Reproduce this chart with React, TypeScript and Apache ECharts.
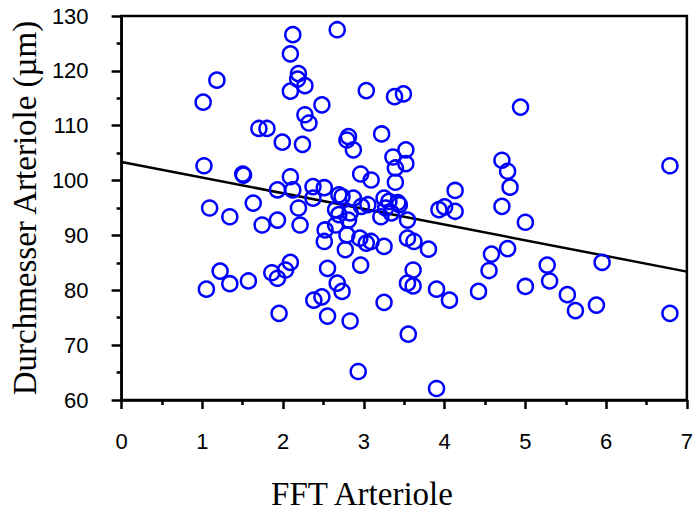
import React, { useEffect, useRef } from "react";
import * as echarts from "echarts";

const xValues = [
  2.12, 2.09, 2.19, 2.18, 2.27, 2.09, 1.18, 1.01, 2.27, 2.32, 1.7, 1.8, 1.99, 2.24, 1.02, 1.5, 1.51, 2.09, 1.93, 2.12,
  2.37, 2.37, 1.63, 1.09, 1.34, 2.19, 1.74, 1.93, 2.21, 1.22, 1.05, 1.34, 1.57, 1.86, 1.93, 2.03, 2.09, 1.95, 2.38,
  2.67, 3.03, 3.38, 3.49, 2.48, 2.81, 2.79, 2.87, 3.22, 3.52, 3.36, 3.52, 3.39, 3.39, 2.96, 3.09, 4.13, 2.51, 2.69,
  2.73, 2.87, 3.25, 3.31, 3.42, 3.93, 4.0, 4.13, 2.65, 2.69, 2.83, 2.81, 2.97, 3.05, 3.21, 3.27, 3.34, 3.44, 3.54,
  2.52, 2.51, 2.65, 2.77, 2.79, 2.95, 3.03, 3.09, 3.25, 3.54, 3.62, 3.8, 2.55, 2.96, 3.61, 3.54, 3.61, 3.9, 4.06,
  4.42, 2.67, 2.73, 2.48, 2.55, 2.83, 3.25, 3.55, 2.93, 3.9, 4.71, 5.0, 4.78, 4.58, 4.55, 5.27, 5.3, 5.0, 5.95, 5.52,
  5.62, 5.88, 6.79, 4.94, 4.71, 4.78, 4.81, 6.79,
];
const yValues = [
  126.6, 123.1, 119.5, 118.5, 117.3, 116.3, 118.3, 114.3, 112.0, 110.5, 109.5, 109.5, 107.0, 106.6, 102.7, 101.2, 101.0,
  100.7, 98.3, 98.3, 98.9, 96.8, 95.9, 95.0, 93.4, 95.0, 91.9, 92.8, 91.9, 83.5, 80.2, 81.2, 81.7, 83.2, 82.2, 83.7,
  85.1, 75.8, 78.2, 127.5, 116.4, 115.3, 115.8, 113.8, 108.0, 107.4, 105.6, 108.5, 105.6, 104.3, 103.1, 102.3, 99.7,
  101.2, 100.1, 98.2, 98.7, 97.4, 97.1, 96.8, 96.8, 96.2, 96.0, 94.7, 95.2, 94.4, 94.7, 93.8, 94.1, 92.8, 95.3, 95.6,
  93.4, 95.0, 94.1, 95.6, 92.8, 91.0, 88.9, 91.9, 87.4, 90.1, 89.5, 88.6, 88.9, 88.0, 89.5, 88.9, 87.5, 84.0, 84.6,
  83.7, 81.3, 80.8, 80.2, 78.2, 79.8, 81.3, 79.8, 78.8, 75.3, 74.4, 77.8, 72.0, 65.2, 62.1, 95.3, 92.4, 87.6, 86.6,
  83.6, 84.6, 81.7, 80.7, 85.1, 79.2, 76.3, 77.3, 75.8, 113.4, 103.7, 101.7, 98.8, 102.7,
];
const fitX = [0, 7];
const fitY = [103.4, 83.4];

const xTitle = "FFT Arteriole";
const yTitle = "Durchmesser Arteriole (µm)";

export default function App() {
  const ref = useRef<HTMLDivElement>(null);
  useEffect(() => {
    if (!ref.current) return;
    const chart = echarts.init(ref.current, null, { renderer: "svg" });
    const points = xValues.map((x, i) => [x, yValues[i]]);
    const fit = fitX.map((x, i) => [x, fitY[i]]);
    const labelFont = { fontFamily: "'Liberation Sans', Arial, sans-serif", fontSize: 22, color: "#000" };
    const titleFamily = "'Liberation Serif', 'Times New Roman', serif";
    const titleFont = { fontFamily: titleFamily, fontSize: 33, color: "#000" };
    chart.setOption({
      animation: false,
      backgroundColor: "#fff",
      grid: {
        left: 115.5,
        right: 5,
        top: 16,
        bottom: 114,
        show: true,
        borderColor: "#000",
        borderWidth: 2.5,
        backgroundColor: "transparent",
      },
      graphic: [
        {
          type: "text",
          x: 362,
          y: 494,
          style: {
            text: xTitle,
            font: `33px ${titleFamily}`,
            fill: "#000",
            align: "center",
            verticalAlign: "middle",
          },
        },
      ],
      xAxis: {
        type: "value",
        min: 0,
        max: 7,
        interval: 1,
        axisLine: { show: true, onZero: false, lineStyle: { color: "#000", width: 2.5 } },
        axisTick: { show: true, length: 9, lineStyle: { color: "#000", width: 2.5 } },
        minorTick: { show: true, splitNumber: 2, length: 5, lineStyle: { color: "#000", width: 2.5 } },
        splitLine: { show: false },
        axisLabel: { ...labelFont, margin: 30 },
      },
      yAxis: {
        type: "value",
        min: 60,
        max: 130,
        interval: 10,
        name: yTitle,
        nameLocation: "middle",
        nameGap: 71,
        nameTextStyle: titleFont,
        axisLine: { show: true, onZero: false, lineStyle: { color: "#000", width: 2.5 } },
        axisTick: { show: true, length: 10, lineStyle: { color: "#000", width: 2.5 } },
        minorTick: { show: true, splitNumber: 2, length: 5, lineStyle: { color: "#000", width: 2.5 } },
        splitLine: { show: false },
        axisLabel: { ...labelFont, margin: 33 },
      },
      series: [
        {
          type: "line",
          data: fit,
          symbol: "none",
          lineStyle: { color: "#000", width: 2.5 },
          z: 1,
        },
        {
          type: "scatter",
          data: points,
          symbol: "circle",
          symbolSize: 15,
          itemStyle: { color: "transparent", borderColor: "#0000ff", borderWidth: 2.5, opacity: 1 },
          z: 2,
        },
      ],
    });
    return () => chart.dispose();
  }, []);
  return (
    <div
      ref={ref}
      style={{ position: "fixed", left: 0, top: 0, width: 696, height: 514, background: "#fff" }}
    />
  );
}
